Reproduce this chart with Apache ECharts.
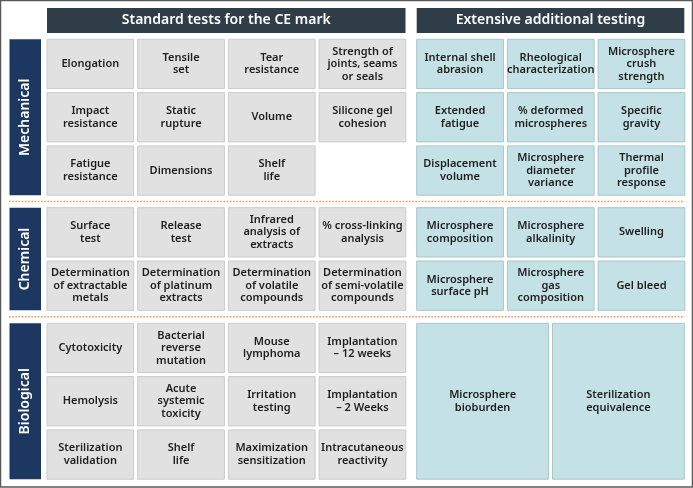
<!DOCTYPE html>
<html><head><meta charset="utf-8">
<script src="https://cdn.jsdelivr.net/npm/echarts@6/dist/echarts.min.js"></script>
<style>html,body{margin:0;padding:0;background:#fff}#c{width:693px;height:488px}</style>
</head><body><div id="c"></div>
<script>
const headers = ['Standard tests for the CE mark', 'Extensive additional testing'];
const sections = ['Mechanical', 'Chemical', 'Biological'];
const mechStd = [
  ['Elongation', 'Tensile\nset', 'Tear\nresistance', 'Strength of\njoints, seams\nor seals'],
  ['Impact\nresistance', 'Static\nrupture', 'Volume', 'Silicone gel\ncohesion'],
  ['Fatigue\nresistance', 'Dimensions', 'Shelf\nlife', '']
];
const mechExt = [
  ['Internal shell\nabrasion', 'Rheological\ncharacterization', 'Microsphere\ncrush\nstrength'],
  ['Extended\nfatigue', '% deformed\nmicrospheres', 'Specific\ngravity'],
  ['Displacement\nvolume', 'Microsphere\ndiameter\nvariance', 'Thermal\nprofile\nresponse']
];
const chemStd = [
  ['Surface\ntest', 'Release\ntest', 'Infrared\nanalysis of\nextracts', '% cross-linking\nanalysis'],
  ['Determination\nof extractable\nmetals', 'Determination\nof platinum\nextracts', 'Determination\nof volatile\ncompounds', 'Determination\nof semi-volatile\ncompounds']
];
const chemExt = [
  ['Microsphere\ncomposition', 'Microsphere\nalkalinity', 'Swelling'],
  ['Microsphere\nsurface pH', 'Microsphere\ngas\ncomposition', 'Gel bleed']
];
const bioStd = [
  ['Cytotoxicity', 'Bacterial\nreverse\nmutation', 'Mouse\nlymphoma', 'Implantation\n– 12 weeks'],
  ['Hemolysis', 'Acute\nsystemic\ntoxicity', 'Irritation\ntesting', 'Implantation\n– 2 Weeks'],
  ['Sterilization\nvalidation', 'Shelf\nlife', 'Maximization\nsensitization', 'Intracutaneous\nreactivity']
];
const bioExt = [
  ['Microsphere\nbioburden', 'Sterilization\nequivalence']
];

// layout (style constants)
const L = {
  stdX0: 47, extX0: 416.7, colPitch: 90.7, colW: 86.7,
  secY: [39.3, 207.7, 323.3], rowPitch: 53.3, rowH: 49.3,
  sideX0: 9.5, sideX1: 41, headY0: 8, headY1: 33,
  stdX1: 405.5, extX1: 684.3, sepX0: 9, sepX1: 684.5
};
const std = [mechStd, chemStd, bioStd];
const ext = [mechExt, chemExt, bioExt];

const items = [];
// headers
items.push({kind:'head', x0:L.stdX0, x1:L.stdX1, y0:L.headY0, y1:L.headY1, text:headers[0]});
items.push({kind:'head', x0:L.extX0, x1:L.extX1, y0:L.headY0, y1:L.headY1, text:headers[1]});
sections.forEach((s, si) => {
  const nRows = std[si].length;
  const y0 = L.secY[si];
  const y1 = y0 + (nRows - 1) * L.rowPitch + L.rowH;
  items.push({kind:'side', x0:L.sideX0, x1:L.sideX1, y0, y1, text:s});
  std[si].forEach((row, ri) => row.forEach((t, ci) => {
    if (!t) return;
    items.push({kind:'std', x0:L.stdX0 + ci*L.colPitch, x1:L.stdX0 + ci*L.colPitch + L.colW,
      y0:y0 + ri*L.rowPitch, y1:y0 + ri*L.rowPitch + L.rowH, text:t});
  }));
  const er = ext[si];
  if (er.length === nRows) {
    er.forEach((row, ri) => row.forEach((t, ci) => {
      items.push({kind:'ext', x0:L.extX0 + ci*L.colPitch, x1:L.extX0 + ci*L.colPitch + L.colW,
        y0:y0 + ri*L.rowPitch, y1:y0 + ri*L.rowPitch + L.rowH, text:t});
    }));
  } else {
    const n = er[0].length;
    const w = (L.extX1 - L.extX0 - 4*(n-1)) / n;
    er[0].forEach((t, ci) => {
      items.push({kind:'ext', x0:L.extX0 + ci*(w+4), x1:L.extX0 + ci*(w+4) + w, y0, y1, text:t});
    });
  }
  if (si > 0) {
    const sy = (L.secY[si-1] + (std[si-1].length-1)*L.rowPitch + L.rowH + y0) / 2;
    items.push({kind:'sep', x0:L.sepX0, x1:L.sepX1, y0:sy, y1:sy, text:''});
  }
});
items.push({kind:'frame', x0:0.5, x1:692.5, y0:0.5, y1:487, text:''});

const FONT = '"Noto Sans", sans-serif';
const chart = echarts.init(document.getElementById('c'));
chart.setOption({
  animation: false,
  grid: {left:0, top:0, right:0, bottom:0},
  xAxis: {type:'value', min:0, max:693, show:false},
  yAxis: {type:'value', min:0, max:488, inverse:true, show:false},
  series: [{
    type: 'custom',
    coordinateSystem: 'cartesian2d',
    data: items.map(d => [d.x0, d.y0, d.x1, d.y1]),
    encode: {x:[0,2], y:[1,3]},
    clip: false,
    renderItem: function (params, api) {
      const d = items[params.dataIndex];
      const p0 = api.coord([api.value(0), api.value(1)]);
      const p1 = api.coord([api.value(2), api.value(3)]);
      const x = p0[0], y = p0[1], w = p1[0]-p0[0], h = p1[1]-p0[1];
      const cx = x + w/2, cy = y + h/2;
      if (d.kind === 'frame') {
        return {type:'rect', shape:{x, y, width:w, height:h}, style:{fill:'none', stroke:'#5a5a5a', lineWidth:1.5}};
      }
      if (d.kind === 'sep') {
        return {type:'line', shape:{x1:x, y1:y, x2:p1[0], y2:y},
          style:{stroke:'#ef9a5a', lineWidth:1.6, lineDash:[1.6,1.6]}};
      }
      let fill, stroke, tColor, font, rot = 0;
      if (d.kind === 'head') { fill='#2f3d48'; stroke=null; tColor='#ffffff'; font='600 14px ' + FONT; }
      else if (d.kind === 'side') { fill='#1c3760'; stroke=null; tColor='#ffffff'; font='600 14px ' + FONT; rot=Math.PI/2; }
      else if (d.kind === 'std') { fill='#e1e1e1'; stroke='#cbcbcb'; tColor='#1e1e1e'; font='600 11px ' + FONT; }
      else { fill='#c4e1e6'; stroke='#a9c6cb'; tColor='#1e1e1e'; font='600 11px ' + FONT; }
      const children = [
        {type:'rect', shape:{x, y, width:w, height:h},
          style:{fill, stroke: stroke || 'none', lineWidth: stroke ? 1 : 0}},
        {type:'text', x:cx, y:cy, rotation:rot,
          style:{text:d.text, font, fill:tColor, align:'center', verticalAlign:'middle', lineHeight: d.kind==='head'||d.kind==='side' ? 16 : 12.5}}
      ];
      return {type:'group', children};
    }
  }]
});
</script></body></html>
